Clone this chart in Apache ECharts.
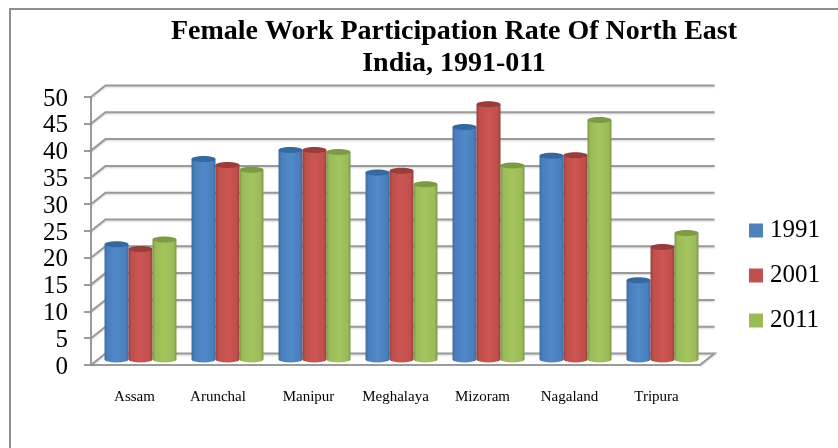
<!DOCTYPE html>
<html>
<head>
<meta charset="utf-8">
<style>html,body{margin:0;padding:0;background:#fff}#c{width:838px;height:448px}</style>
<script src="https://cdn.jsdelivr.net/npm/echarts@6/dist/echarts.min.js"></script>
</head>
<body>
<div id="c"></div>
<script>
const titleText = 'Female Work Participation Rate Of North East\nIndia, 1991-011';
const categories = ['Assam', 'Arunchal', 'Manipur', 'Meghalaya', 'Mizoram', 'Nagaland', 'Tripura'];
const values1991 = [21.5, 37.4, 39.1, 34.9, 43.4, 38.0, 14.8];
const values2001 = [20.6, 36.3, 39.1, 35.2, 47.6, 38.1, 21.0];
const values2011 = [22.4, 35.4, 38.7, 32.7, 36.2, 44.7, 23.6];
const yTicks = [0, 5, 10, 15, 20, 25, 30, 35, 40, 45, 50];

const FONT = '"Liberation Serif", "Times New Roman", serif';
const DEPTH_X = 14.5, DEPTH_Y = -11.5;
const GRAY = '#9a9a9a';

function linear(stops) {
  return { type: 'linear', x: 0, y: 0, x2: 1, y2: 0,
    colorStops: stops.map(s => ({ offset: s[0], color: s[1] })) };
}
const palettes = [
  { flat: '#4f81bd', top: '#34689f', body: linear([[0, '#3a6a9f'], [0.12, '#4a7fbd'], [0.5, '#5088c9'], [0.88, '#4a7fbd'], [1, '#3a6a9f']]) },
  { flat: '#c0504d', top: '#983d3a', body: linear([[0, '#963f3d'], [0.12, '#c04f4c'], [0.5, '#cc5552'], [0.88, '#c04f4c'], [1, '#963f3d']]) },
  { flat: '#9bbb59', top: '#7d9a45', body: linear([[0, '#7b9747'], [0.12, '#9abb58'], [0.5, '#a3c55d'], [0.88, '#9abb58'], [1, '#7b9747']]) }
];

function barSeries(name, values, idx) {
  const pal = palettes[idx];
  return {
    name, type: 'custom', z: 3, clip: false,
    itemStyle: { color: pal.flat },
    encode: { x: 0, y: 1 },
    data: values.map((v, i) => [i, v]),
    renderItem(params, api) {
      const cat = api.value(0), v = api.value(1);
      const band = api.size([1, 0])[0];
      const w = band * 0.2757;
      const top = api.coord([cat, v]);
      const base = api.coord([cat, 0]);
      const cx = top[0] + 6 + (idx - 1) * w;
      const yTop = top[1] - 5.5, yBase = base[1] - 5.5;
      const rx = w / 2, ry = 3;
      const left = cx - rx, right = cx + rx;
      return {
        type: 'group',
        children: [
          { type: 'path',
            shape: { pathData:
              `M${left} ${yTop} L${left} ${yBase} A${rx} ${ry} 0 0 0 ${right} ${yBase} L${right} ${yTop} Z`,
              x: left, y: yTop, width: w, height: yBase - yTop + ry, layout: 'center' },
            style: { fill: pal.body } },
          { type: 'ellipse',
            shape: { cx, cy: yTop, rx, ry },
            style: { fill: pal.top } }
        ]
      };
    }
  };
}

const wallSeries = {
  name: 'wall', type: 'custom', z: 1, silent: true, clip: false,
  encode: { y: 0 },
  data: yTicks.map(v => [v]),
  renderItem(params, api) {
    const v = api.value(0);
    const cs = params.coordSys;
    const y = api.coord([0, v])[1];
    const pts = [[cs.x, y], [cs.x + DEPTH_X, y + DEPTH_Y], [cs.x + cs.width + DEPTH_X, y + DEPTH_Y]];
    if (v === 0) pts.push([cs.x + cs.width, y]);
    return {
      type: 'polyline',
      shape: { points: pts },
      style: { fill: null, stroke: GRAY, lineWidth: 2, shadowColor: 'rgba(0,0,0,0.18)', shadowBlur: 2, shadowOffsetY: 1 }
    };
  }
};

const chart = echarts.init(document.getElementById('c'), null, { renderer: 'canvas' });
chart.setOption({
  animation: false,
  backgroundColor: '#fff',
  title: {
    text: titleText, left: 449, top: 11, textAlign: 'center',
    textStyle: { fontFamily: FONT, fontSize: 28, fontWeight: 'bold', color: '#000', lineHeight: 32 }
  },
  legend: {
    data: ['1991', '2001', '2011'], orient: 'vertical', left: 744, top: 213,
    itemWidth: 14, itemHeight: 14, itemGap: 20, icon: 'rect',
    textStyle: { fontFamily: FONT, fontSize: 25, color: '#000', padding: [0, 0, 0, 2] }
  },
  grid: { left: 91, right: 138, top: 97, height: 268, containLabel: false },
  xAxis: {
    type: 'category',
    data: categories.map(c => (c === 'Arunchal' ? { value: c, textStyle: { padding: [0, 7, 0, 0] } } : c)),
    axisLine: { lineStyle: { color: GRAY, width: 2 } },
    axisTick: { length: 5, lineStyle: { color: GRAY, width: 2 } },
    axisLabel: { fontFamily: FONT, fontSize: 15, color: '#000', margin: 25 },
    splitLine: { show: false }
  },
  yAxis: {
    type: 'value', min: 0, max: 50, interval: 5,
    axisLine: { show: true, lineStyle: { color: GRAY, width: 2 } },
    axisTick: { show: true, length: 7, lineStyle: { color: GRAY, width: 2 } },
    axisLabel: { fontFamily: FONT, fontSize: 25, color: '#000', margin: 23, verticalAlign: 'top', lineHeight: 4,
      formatter: v => (yTicks.includes(v) ? String(v) : '') },
    splitLine: { show: false }
  },
  graphic: [{
    type: 'polyline', silent: true, z: 0,
    shape: { points: [[10, 448], [10, 9], [838, 9]] },
    style: { fill: null, stroke: '#8f8f8f', lineWidth: 2 }
  }],
  series: [wallSeries, barSeries('1991', values1991, 0), barSeries('2001', values2001, 1), barSeries('2011', values2011, 2)]
});
</script>
</body>
</html>
